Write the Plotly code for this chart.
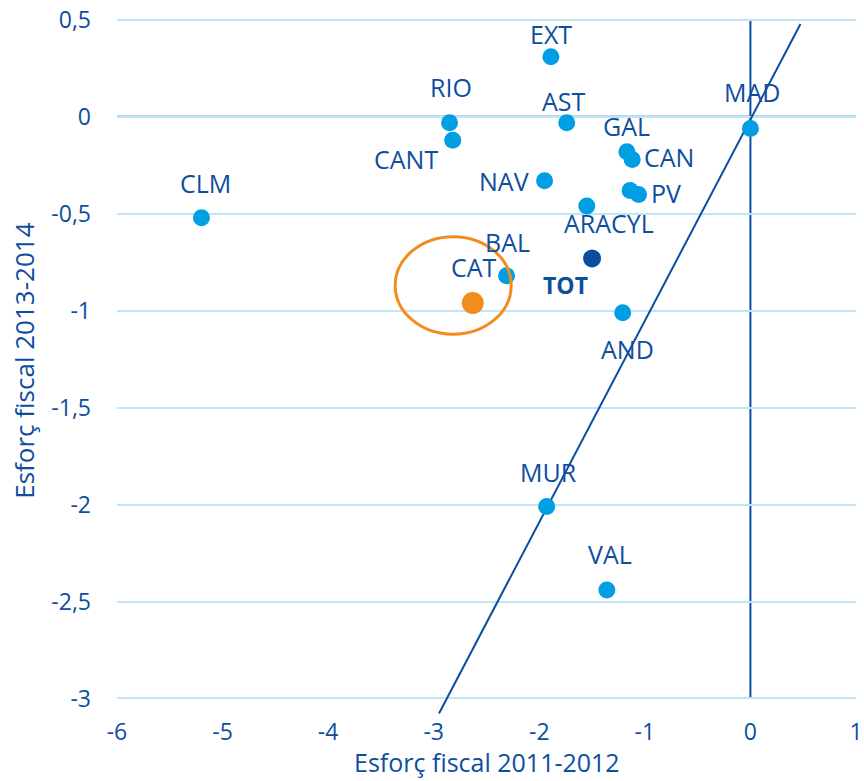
import plotly.graph_objects as go

# Data
regions = ["EXT", "RIO", "CANT", "AST", "GAL", "CAN", "NAV", "ARA", "PV", "CYL",
           "CLM", "MAD", "BAL", "AND", "MUR", "VAL"]
esforc_2011_2012 = [-1.89, -2.85, -2.82, -1.74, -1.17, -1.12, -1.95, -1.14, -1.06, -1.55,
                    -5.20, 0.00, -2.31, -1.21, -1.93, -1.36]
esforc_2013_2014 = [0.31, -0.03, -0.12, -0.03, -0.18, -0.22, -0.33, -0.38, -0.40, -0.46,
                    -0.52, -0.06, -0.82, -1.01, -2.01, -2.44]
point_labels = ["EXT", "RIO", "CANT", "AST", "GAL", "CAN", "NAV", "", "PV", "ARACYL",
                "CLM", "MAD", "BAL", "AND", "MUR", "VAL"]

tot_x = [-1.50]
tot_y = [-0.73]
cat_x = [-2.63]
cat_y = [-0.96]

diag_x = [-2.95, 0.474]
diag_y = [-3.077, 0.479]

x_ticks = [-6, -5, -4, -3, -2, -1, 0, 1]
x_ticktext = ["-6", "-5", "-4", "-3", "-2", "-1", "0", "1"]
y_ticks = [-3, -2.5, -2, -1.5, -1, -0.5, 0, 0.5]
y_ticktext = ["-3", "-2,5", "-2", "-1,5", "-1", "-0,5", "0", "0,5"]

# label offsets in pixels (dx, dy up)
label_offsets = {
    "EXT": (0, 23), "RIO": (1, 36), "CANT": (-47, -19), "AST": (-3, 22),
    "GAL": (0, 26), "CAN": (37, 3), "NAV": (-41, 0), "PV": (27, 1),
    "ARACYL": (22, -17), "CLM": (4, 35), "MAD": (2, 37), "BAL": (1, 34),
    "AND": (5, -36), "MUR": (2, 35), "VAL": (3, 36),
}

TXT = "#0D4E9F"
LIGHT = "#009FE3"
DARK = "#0A4EA2"
ORANGE = "#F28C1E"
GRID = "#BFE6F8"
FONT = "Open Sans"
LBL = 25

W, H = 864, 781
L, T = 117, 18
PW, PH = 739, 696.5

fig = go.Figure()

fig.add_trace(go.Scatter(x=diag_x, y=diag_y, mode="lines",
                         line=dict(color=DARK, width=2), hoverinfo="skip", showlegend=False))
fig.add_trace(go.Scatter(x=esforc_2011_2012, y=esforc_2013_2014, mode="markers",
                         marker=dict(color=LIGHT, size=17), text=regions, showlegend=False,
                         cliponaxis=False))
fig.add_trace(go.Scatter(x=tot_x, y=tot_y, mode="markers",
                         marker=dict(color=DARK, size=18), showlegend=False))
fig.add_trace(go.Scatter(x=cat_x, y=cat_y, mode="markers",
                         marker=dict(color=ORANGE, size=22), showlegend=False))

annotations = []
for x, y, lab in zip(esforc_2011_2012, esforc_2013_2014, point_labels):
    if not lab:
        continue
    dx, dy = label_offsets[lab]
    annotations.append(dict(x=x, y=y, text=lab, showarrow=False, xshift=dx, yshift=dy,
                            font=dict(family=FONT, size=LBL, color=TXT)))
annotations.append(dict(x=cat_x[0], y=cat_y[0], text="CAT", showarrow=False, xshift=1, yshift=36,
                        font=dict(family=FONT, size=LBL, color=TXT)))
annotations.append(dict(x=tot_x[0], y=tot_y[0], text="<b>TOT</b>", showarrow=False, xshift=-27,
                        yshift=-27, font=dict(family=FONT, size=23, color=TXT)))
# axis titles
annotations.append(dict(xref="paper", yref="paper", x=(487 - L) / PW,
                        y=-(763 - (T + PH)) / PH,
                        text="Esforç fiscal 2011-2012", showarrow=False,
                        xanchor="center", yanchor="middle",
                        font=dict(family=FONT, size=25, color=TXT)))
annotations.append(dict(xref="paper", yref="paper", x=-(L - 24) / PW,
                        y=((T + PH) - 361) / PH,
                        text="Esforç fiscal 2013-2014", showarrow=False, textangle=-90,
                        xanchor="center", yanchor="middle",
                        font=dict(family=FONT, size=26, color=TXT)))

shapes = [
    dict(type="line", xref="x", yref="y", x0=-6, x1=1, y0=0, y1=0,
         line=dict(color=DARK, width=2), layer="below"),
    dict(type="line", xref="x", yref="y", x0=0, x1=0, y0=-3, y1=0.5,
         line=dict(color=DARK, width=2), layer="below"),
    dict(type="circle", xref="x", yref="y", x0=-3.365, x1=-2.266, y0=-1.121, y1=-0.618,
         line=dict(color=ORANGE, width=3)),
]

fig.update_layout(
    width=W, height=H,
    margin=dict(l=L, r=W - L - PW, t=T, b=H - T - PH),
    plot_bgcolor="white", paper_bgcolor="white",
    font=dict(family=FONT, size=20, color=TXT),
    annotations=annotations, shapes=shapes,
    xaxis=dict(range=[-6, 1], tickvals=x_ticks, ticktext=x_ticktext, showgrid=False,
               zeroline=False, showline=False, ticks="", ticklabelstandoff=2, automargin=False,
               tickfont=dict(size=23, color=TXT)),
    yaxis=dict(range=[-3.08, 0.51], tickvals=y_ticks, ticktext=y_ticktext, showgrid=True,
               gridcolor=GRID, gridwidth=2, zeroline=False, showline=False, ticks="",
               ticklabelstandoff=25, automargin=False,
               tickfont=dict(size=23, color=TXT)),
)

fig.write_html("out.html", config={"displayModeBar": False},
               post_script="document.body.style.margin='0';document.body.style.overflow='hidden';")
